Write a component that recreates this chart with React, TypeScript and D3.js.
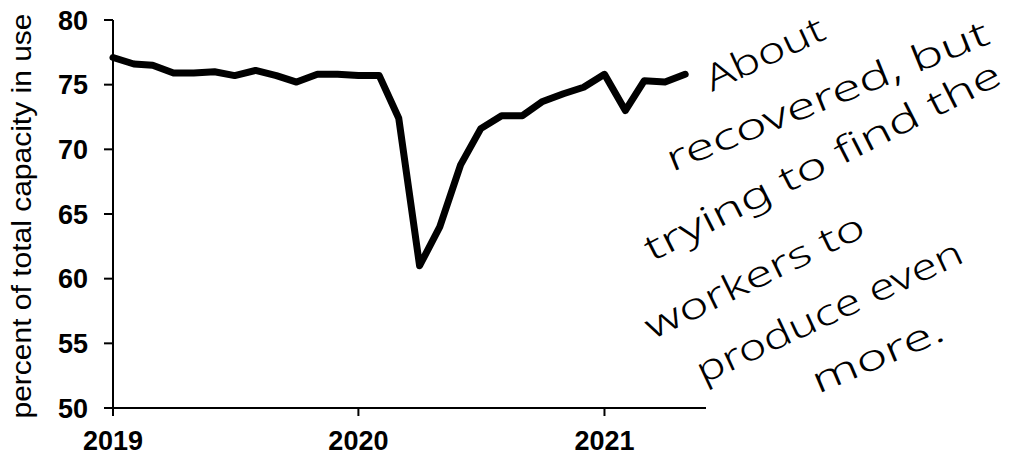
import React from "react";
import { scaleLinear, scaleTime, line, curveLinear, timeParse } from "d3";

// monthly capacity utilisation, Jan 2019 .. May 2021
const months: string[] = [
  "2019-01", "2019-02", "2019-03", "2019-04", "2019-05", "2019-06",
  "2019-07", "2019-08", "2019-09", "2019-10", "2019-11", "2019-12",
  "2020-01", "2020-02", "2020-03", "2020-04", "2020-05", "2020-06",
  "2020-07", "2020-08", "2020-09", "2020-10", "2020-11", "2020-12",
  "2021-01", "2021-02", "2021-03", "2021-04", "2021-05",
];

const capacity: number[] = [
  77.1, 76.6, 76.5, 75.9, 75.9, 76.0, 75.7, 76.1, 75.7, 75.2, 75.8, 75.8,
  75.7, 75.7, 72.4, 61.0, 64.0, 68.8, 71.6, 72.6, 72.6, 73.7, 74.3, 74.8,
  75.8, 73.0, 75.3, 75.2, 75.8,
];

const yTicks: number[] = [50, 55, 60, 65, 70, 75, 80];
const xTickYears: string[] = ["2019", "2020", "2021"];

const yLabel = "percent of total capacity in use";

// handwritten note, one entry per written line
const noteLines: string[] = [
  "About",
  "recovered, but",
  "trying to find the",
  "workers to",
  "produce even",
  "more.",
];

const W = 1036;
const H = 456;
const margin = { left: 113, right: 330, top: 20, bottom: 48 };

const parseMonth = timeParse("%Y-%m");
const parseYear = timeParse("%Y");

export default function App(): JSX.Element {
  const x = scaleTime()
    .domain([parseMonth("2019-01")!, parseMonth("2021-06")!])
    .range([margin.left, W - margin.right]);

  const y = scaleLinear()
    .domain([50, 80])
    .range([H - margin.bottom, margin.top]);

  const path = line<number>()
    .x((_, i) => x(parseMonth(months[i])!))
    .y((d) => y(d))
    .curve(curveLinear)(capacity);

  const x0 = margin.left;
  const y0 = y(50);

  // where each note line starts, its angle and stretched length
  const notePlace = [
    { x: 712, y: 92, r: -25, len: 128 },
    { x: 672, y: 172, r: -22, len: 345 },
    { x: 652, y: 262, r: -27, len: 395 },
    { x: 652, y: 340, r: -26, len: 240 },
    { x: 703, y: 384, r: -25, len: 290 },
    { x: 818, y: 394, r: -23, len: 140 },
  ];

  return (
    <svg
      width={W}
      height={H}
      style={{ position: "absolute", left: 0, top: 0, background: "#fff" }}
      fontFamily="'Liberation Sans', Arial, sans-serif"
    >
      {/* Y axis */}
      <line x1={x0} x2={x0} y1={y(80)} y2={y0} stroke="#000" strokeWidth={2} />
      {yTicks.map((t) => (
        <g key={`y-${t}`} transform={`translate(0,${y(t)})`}>
          <line x1={x0 - 9} x2={x0} stroke="#000" strokeWidth={2} />
          <text
            x={88}
            dy="0.36em"
            textAnchor="end"
            fontSize={27}
            fontWeight="bold"
          >
            {t}
          </text>
        </g>
      ))}

      {/* X axis */}
      <line x1={x0} x2={x(parseMonth("2021-06")!)} y1={y0} y2={y0} stroke="#000" strokeWidth={2} />
      {xTickYears.map((yr) => {
        const px = x(parseYear(yr)!);
        return (
          <g key={`x-${yr}`} transform={`translate(${px},0)`}>
            <line y1={y0} y2={y0 + 8} stroke="#000" strokeWidth={2} />
            <text y={450} textAnchor="middle" fontSize={27} fontWeight="bold">
              {yr}
            </text>
          </g>
        );
      })}

      {/* Y label */}
      <text
        transform={`translate(31,${(y(80) + y0) / 2 + 2}) rotate(-90)`}
        textAnchor="middle"
        fontSize={27}
        textLength={405}
        lengthAdjust="spacingAndGlyphs"
      >
        {yLabel}
      </text>

      {/* Series */}
      <path
        d={path ?? ""}
        fill="none"
        stroke="#000"
        strokeWidth={7}
        strokeLinejoin="round"
        strokeLinecap="round"
      />

      {/* Note */}
      <g
        fontFamily="'Noto Sans', 'DejaVu Sans', sans-serif"
        fontSize={36}
        fontWeight={300}
        fill="#000"
      >
        {noteLines.map((s, i) => {
          const p = notePlace[i];
          return (
            <text
              key={`note-${i}`}
              transform={`translate(${p.x},${p.y}) rotate(${p.r})`}
              textLength={p.len}
              lengthAdjust="spacingAndGlyphs"
            >
              {s}
            </text>
          );
        })}
      </g>
    </svg>
  );
}
